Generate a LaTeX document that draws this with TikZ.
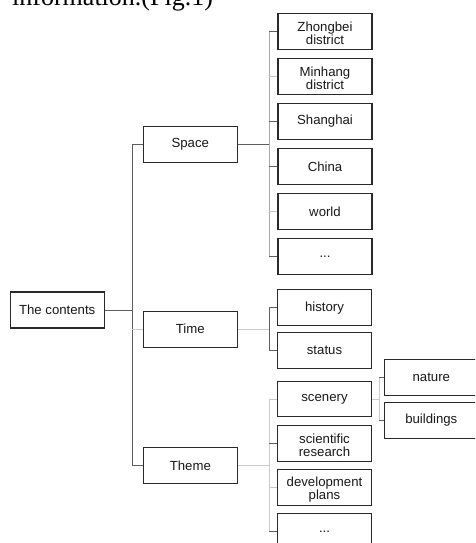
\documentclass[tikz,border=0pt]{standalone}
\usepackage{fontspec}
\setmainfont{Liberation Sans}
\newfontfamily\serifface{Liberation Serif}
\definecolor{boxc}{HTML}{2A2A2A}
\definecolor{dkc}{HTML}{5E5E5E}
\definecolor{midc}{HTML}{A8A8A8}
\definecolor{ltc}{HTML}{CACACA}
\newcommand{\topstrut}{\rule{0pt}{13pt}}
\begin{document}
\begin{tikzpicture}[x=1pt,y=-1pt,
  box/.style={draw=boxc, line width=1.1pt, fill=white, minimum width=94pt,
    minimum height=36pt, inner sep=0pt, align=center,
    font=\fontsize{13.2}{13}\selectfont, text=black!90},
  dk/.style={draw=dkc, line width=1pt},
  md/.style={draw=midc, line width=1pt},
  lt/.style={draw=ltc, line width=1pt}]
\useasboundingbox (0,0) rectangle (475,543);
\clip (0,0) rectangle (475,543);
\fill[white] (0,0) rectangle (475,543);

% cut-off caption line at the top
\node[anchor=base west, inner sep=0pt, font=\serifface\fontsize{26}{26}\selectfont, text=black] (cap) at (12,6) {information.(Fig.1)};

% bus positions
\coordinate (b0) at (132,0);
\coordinate (b1) at (269,0);
\coordinate (b3) at (379,0);

% nodes
\node[box] (ct) at (57.2,310) {The contents};
\node[box] (sp) at (190.3,144.4) {Space};
\node[box] (ti) at (190.3,329.2) {Time};
\node[box] (th) at (190.3,465.3) {Theme};

\node[box] (zb) at (325,31.3) {\topstrut Zhongbei\\district};
\node[box] (mh) at (325,76.3) {\topstrut Minhang\\district};
\node[box] (sh) at (325,121.3) {Shanghai};
\node[box] (cn) at (325,166.3) {China};
\node[box] (wd) at (325,211.3) {world};
\node[box] (d1) at (325,256.3) {...};

\node[box] (hi) at (324.5,307.9) {history};
\node[box] (st) at (324.5,350.5) {status};

\node[box, minimum height=35pt] (sc) at (324.5,399.2) {scenery};
\node[box] (sr) at (324.5,443.3) {\topstrut scientific\\research};
\node[box] (dp) at (324.5,487.5) {\topstrut development\\plans};
\node[box] (d2) at (324.5,531.3) {...};

\node[box] (na) at (431.3,377.5) {nature};
\node[box] (bu) at (431.3,420.2) {buildings};

% level 1
\draw[dk] (ct.east) -- (ct.east -| b0);
\draw[dk] (sp.west) -- (sp.west -| b0) -- (th.west -| b0) -- (th.west);
\draw[lt] (ti.west) -- (ti.west -| b0);

% Space group
\draw[dk] (sp.east) -- (sp.east -| b1);
\draw[md] (zb.west -| b1) -- (d1.west -| b1);
\draw[dk] (zb.west) -- (zb.west -| b1);
\draw[lt] (mh.west) -- (mh.west -| b1);
\draw[dk] (sh.west) -- (sh.west -| b1);
\draw[dk] (cn.west) -- (cn.west -| b1);
\draw[lt] (wd.west) -- (wd.west -| b1);
\draw[dk] (d1.west) -- (d1.west -| b1);

% Time group
\draw[lt] (ti.east) -- (ti.east -| b1);
\draw[dk] (hi.west) -- (hi.west -| b1) -- (st.west -| b1) -- (st.west);

% Theme group
\draw[lt] (th.east) -- (th.east -| b1);
\draw[lt] (sc.west -| b1) -- (d2.west -| b1);
\draw[lt] (sc.west) -- (sc.west -| b1);
\draw[dk] (sr.west) -- (sr.west -| b1);
\draw[lt] (dp.west) -- (dp.west -| b1);
\draw[dk] (d2.west) -- (d2.west -| b1);

% scenery group
\draw[lt] (sc.east) -- (sc.east -| b3);
\draw[lt] (na.west -| b3) -- (bu.west -| b3);
\draw[dk] (na.west) -- (na.west -| b3);
\draw[dk] (bu.west) -- (bu.west -| b3);
\end{tikzpicture}
\end{document}
